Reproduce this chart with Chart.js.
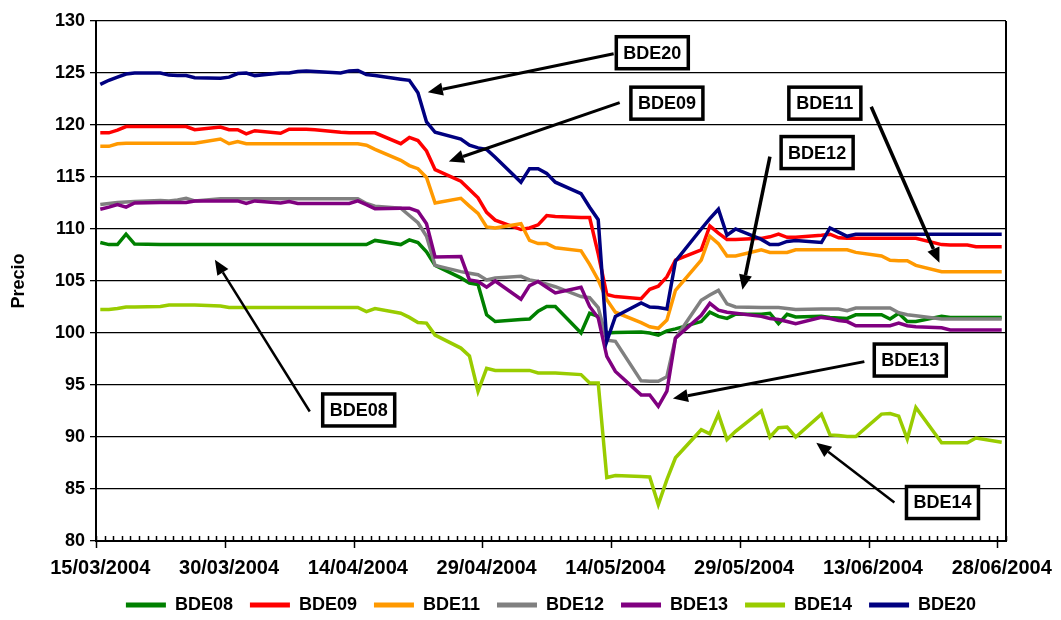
<!DOCTYPE html>
<html lang="es">
<head>
<meta charset="utf-8">
<title>Precio BDE</title>
<script src="https://cdn.jsdelivr.net/npm/chart.js@4.4.1/dist/chart.umd.min.js"></script>
<style>
  html, body { margin: 0; padding: 0; background: #fff; }
  #wrap { width: 1061px; height: 620px; }
</style>
</head>
<body>
<div id="wrap"><canvas id="chart" width="1061" height="620"></canvas></div>
<script>
// business days shown on the chart
const dates = [
  "15/03/2004", "16/03/2004", "17/03/2004", "18/03/2004", "19/03/2004",
  "22/03/2004", "23/03/2004", "24/03/2004", "25/03/2004", "26/03/2004",
  "29/03/2004", "30/03/2004", "31/03/2004", "01/04/2004", "02/04/2004",
  "05/04/2004", "06/04/2004", "07/04/2004", "08/04/2004", "09/04/2004",
  "12/04/2004", "13/04/2004", "14/04/2004", "15/04/2004", "16/04/2004",
  "19/04/2004", "20/04/2004", "21/04/2004", "22/04/2004", "23/04/2004",
  "26/04/2004", "27/04/2004", "28/04/2004", "29/04/2004", "30/04/2004",
  "03/05/2004", "04/05/2004", "05/05/2004", "06/05/2004", "07/05/2004",
  "10/05/2004", "11/05/2004", "12/05/2004", "13/05/2004", "14/05/2004",
  "17/05/2004", "18/05/2004", "19/05/2004", "20/05/2004", "21/05/2004",
  "24/05/2004", "25/05/2004", "26/05/2004", "27/05/2004", "28/05/2004",
  "31/05/2004", "01/06/2004", "02/06/2004", "03/06/2004", "04/06/2004",
  "07/06/2004", "08/06/2004", "09/06/2004", "10/06/2004", "11/06/2004",
  "14/06/2004", "15/06/2004", "16/06/2004", "17/06/2004", "18/06/2004",
  "21/06/2004", "22/06/2004", "23/06/2004", "24/06/2004", "25/06/2004",
  "28/06/2004"
];

const bde08 = [
  108.7, 108.5, 108.5, 109.5, 108.55,
  108.5, 108.5, 108.5, 108.5, 108.5,
  108.5, 108.5, 108.5, 108.5, 108.5,
  108.5, 108.5, 108.5, 108.5, 108.5,
  108.5, 108.5, 108.5, 108.5, 108.9,
  108.5, 108.95, 108.7, 107.8, 106.5,
  105.3, 104.8, 104.65, 101.75, 101.1,
  101.3, 101.35, 102.1, 102.55, 102.55,
  100.0, 101.9, 101.6, 100.0, 100.05,
  100.1, 100.0, 99.8, 100.2, 100.4,
  101.1, 102.0, 101.6, 101.4, 101.8,
  101.8, 101.9, 100.9, 101.8, 101.55,
  101.6, 101.5, 101.45, 101.4, 101.75,
  101.75, 101.35, 101.9, 101.1, 101.1,
  101.6, 101.5, 101.5, 101.5, 101.5,
  101.5
];
const bde09 = [
  119.25, 119.25, 119.5, 119.85, 119.85,
  119.85, 119.85, 119.85, 119.85, 119.55,
  119.8, 119.55, 119.55, 119.15, 119.45,
  119.2, 119.6, 119.6, 119.6, 119.55,
  119.3, 119.25, 119.25, 119.25, 119.25,
  118.2, 118.8, 118.5, 117.5, 115.7,
  114.6, 113.8, 113.0, 111.6, 110.85,
  109.95, 110.1, 110.4, 111.3, 111.2,
  111.1, 111.1, 107.6, 103.7, 103.5,
  103.3, 104.2, 104.5, 105.4, 107.0,
  108.0, 110.3, 109.6, 109.0, 109.0,
  109.1, 109.25, 109.5, 109.2, 109.2,
  109.4, 109.5, 109.15, 109.1, 109.1,
  109.1, 109.1, 109.1, 109.1, 109.1,
  108.5, 108.45, 108.45, 108.45, 108.3,
  108.3
];
const bde11 = [
  117.95, 117.95, 118.2, 118.25, 118.25,
  118.25, 118.25, 118.25, 118.25, 118.25,
  118.65, 118.2, 118.4, 118.2, 118.2,
  118.2, 118.2, 118.2, 118.2, 118.2,
  118.2, 118.2, 118.2, 118.05, 117.65,
  116.6, 116.1, 115.8, 114.95, 112.5,
  112.95, 112.2, 111.5, 110.2, 110.1,
  110.5, 108.9, 108.6, 108.6, 108.2,
  107.9, 106.6, 105.1, 103.2, 102.0,
  101.0, 100.6, 100.45, 101.25, 104.1,
  107.0, 109.3, 108.6, 107.4, 107.4,
  108.0, 107.75, 107.75, 107.75, 108.0,
  108.0, 108.0, 108.0, 108.0, 107.75,
  107.4, 107.0, 106.95, 106.95, 106.5,
  105.9, 105.9, 105.9, 105.9, 105.9,
  105.9
];
const bde12 = [
  112.35, 112.45, 112.55, 112.6, 112.65,
  112.75, 112.7, 112.8, 112.95, 112.7,
  112.9, 112.9, 112.9, 112.9, 112.9,
  112.9, 112.9, 112.9, 112.9, 112.9,
  112.9, 112.9, 112.9, 112.45, 112.2,
  112.0, 111.3, 110.6, 109.3, 106.5,
  105.9, 105.75, 105.6, 105.1, 105.3,
  105.45, 105.1, 104.95, 104.7, 104.45,
  103.5, 103.4, 102.45, 99.3, 99.2,
  95.4, 95.35, 95.35, 95.8, 99.5,
  103.15, 103.65, 104.1, 102.8, 102.5,
  102.45, 102.45, 102.45, 102.35, 102.25,
  102.3, 102.3, 102.3, 102.15, 102.4,
  102.4, 102.4, 101.95, 101.75, 101.65,
  101.35, 101.35, 101.35, 101.35, 101.35,
  101.35
];
const bde13 = [
  111.9, 112.1, 112.35, 112.1, 112.5,
  112.55, 112.55, 112.55, 112.55, 112.7,
  112.7, 112.7, 112.7, 112.45, 112.7,
  112.5, 112.65, 112.45, 112.45, 112.45,
  112.45, 112.45, 112.7, 112.35, 111.95,
  112.0, 112.0, 111.7, 110.5, 107.3,
  107.35, 105.1, 104.95, 104.4, 105.0,
  103.25, 104.55, 104.95, 104.4, 103.85,
  104.4, 102.55, 101.45, 97.75, 96.3,
  94.05, 94.05, 92.95, 94.4, 99.5,
  101.7, 102.85, 102.2, 102.0, 101.9,
  101.6, 101.4, 101.3, 101.1, 100.9,
  101.5, 101.4, 101.2, 101.1, 100.7,
  100.7, 100.7, 100.95, 100.7, 100.6,
  100.5, 100.3, 100.3, 100.3, 100.3,
  100.3
];
const bde14 = [
  102.25, 102.25, 102.35, 102.5, 102.5,
  102.55, 102.7, 102.7, 102.7, 102.7,
  102.6, 102.45, 102.45, 102.45, 102.45,
  102.45, 102.45, 102.45, 102.45, 102.45,
  102.45, 102.45, 102.45, 102.05, 102.35,
  101.9, 101.5, 101.0, 100.95, 99.8,
  98.55, 97.8, 94.4, 96.6, 96.4,
  96.4, 96.4, 96.15, 96.15, 96.15,
  96.0, 95.2, 95.2, 86.1, 86.3,
  86.2, 86.15, 83.5, 85.9, 88.0,
  90.7, 90.3, 92.2, 89.75, 90.55,
  92.5, 90.0, 90.9, 90.95, 90.0,
  92.2, 90.2, 90.15, 90.05, 90.05,
  92.2, 92.25, 92.0, 89.8, 92.85,
  89.45, 89.45, 89.45, 89.45, 89.9,
  89.5
];
const bde20 = [
  123.9, 124.3, 124.6, 124.9, 125.0,
  125.0, 124.8, 124.75, 124.75, 124.55,
  124.5, 124.6, 124.95, 125.0, 124.75,
  125.0, 125.0, 125.15, 125.2, 125.15,
  125.0, 125.2, 125.25, 124.85, 124.75,
  124.4, 124.3, 123.1, 120.3, 119.3,
  118.65, 118.05, 117.8, 117.65, 116.9,
  114.5, 115.8, 115.8, 115.35, 114.5,
  113.4, 112.1, 110.9, 99.2, 101.6,
  102.9, 102.5, 102.45, 102.3, 106.9,
  110.0, 111.0, 111.9, 109.4, 110.0,
  109.0, 108.5, 108.5, 108.8, 108.9,
  108.7, 110.1, 109.7, 109.3, 109.5,
  109.5, 109.5, 109.5, 109.5, 109.5,
  109.5, 109.5, 109.5, 109.5, 109.5,
  109.5
];

const seriesNames = ["BDE08", "BDE09", "BDE11", "BDE12", "BDE13", "BDE14", "BDE20"];
const seriesValues = [bde08, bde09, bde11, bde12, bde13, bde14, bde20];
const xTickLabels = ["15/03/2004", "30/03/2004", "14/04/2004", "29/04/2004", "14/05/2004", "29/05/2004", "13/06/2004", "28/06/2004"];

const seriesColors = ["#008000", "#ff0000", "#ff9900", "#808080", "#800080", "#99cc00", "#000080"];
const FONT = "'Liberation Sans', Arial, sans-serif";

// callouts: label box and arrow, in axis units (days since 15/03, price)
const callouts = [
  { text: "BDE20", box: [64.8, 126.95], tail: [60.3, 126.85], tip: [38.65, 123.15], w: 3 },
  { text: "BDE09", box: [66.5, 122.1], tail: [61.0, 122.15], tip: [41.1, 116.5], w: 3 },
  { text: "BDE11", box: [84.9, 122.1], tail: [90.3, 121.75], tip: [98.25, 106.75], w: 3.5 },
  { text: "BDE12", box: [84.0, 117.35], tail: [78.5, 116.95], tip: [75.3, 104.15], w: 3.5 },
  { text: "BDE13", box: [94.85, 97.4], tail: [89.5, 97.25], tip: [67.2, 93.7], w: 3 },
  { text: "BDE14", box: [98.6, 83.7], tail: [93.0, 83.7], tip: [83.9, 89.45], w: 2.5 },
  { text: "BDE08", box: [30.6, 92.6], tail: [24.9, 92.45], tip: [13.85, 107.05], w: 2.5 }
];

const START = Date.UTC(2004, 2, 15);
function dayOf(s) {
  const [d, m, y] = s.split("/").map(Number);
  return (Date.UTC(y, m - 1, d) - START) / 86400000;
}

function drawArrow(ctx, x1, y1, x2, y2, w) {
  const ang = Math.atan2(y2 - y1, x2 - x1);
  const head = 15, half = 6.5;
  const bx = x2 - head * Math.cos(ang), by = y2 - head * Math.sin(ang);
  ctx.lineWidth = w;
  ctx.beginPath();
  ctx.moveTo(x1, y1);
  ctx.lineTo(bx, by);
  ctx.stroke();
  ctx.beginPath();
  ctx.moveTo(x2, y2);
  ctx.lineTo(bx + half * Math.sin(ang), by - half * Math.cos(ang));
  ctx.lineTo(bx - half * Math.sin(ang), by + half * Math.cos(ang));
  ctx.closePath();
  ctx.fill();
}

const decor = {
  id: "decor",
  afterDatasetsDraw(chart) {
    const { ctx, scales: { x, y } } = chart;
    ctx.save();
    ctx.strokeStyle = "#000";
    ctx.fillStyle = "#000";
    ctx.lineCap = "butt";
    callouts.forEach((c) => {
      drawArrow(ctx, x.getPixelForValue(c.tail[0]), y.getPixelForValue(c.tail[1]),
        x.getPixelForValue(c.tip[0]), y.getPixelForValue(c.tip[1]), c.w);
    });
    callouts.forEach((c) => {
      const cx = x.getPixelForValue(c.box[0]), cy = y.getPixelForValue(c.box[1]);
      const bw = 72, bh = 32;
      ctx.fillStyle = "#fff";
      ctx.fillRect(cx - bw / 2, cy - bh / 2, bw, bh);
      ctx.lineWidth = 3.5;
      ctx.strokeRect(cx - bw / 2, cy - bh / 2, bw, bh);
      ctx.fillStyle = "#000";
      ctx.font = "bold 18px " + FONT;
      ctx.textAlign = "center";
      ctx.textBaseline = "middle";
      ctx.fillText(c.text, cx, cy + 1);
    });
    ctx.restore();
  },
  afterDraw(chart) {
    const { ctx, chartArea: a, scales: { x } } = chart;
    ctx.save();
    ctx.strokeStyle = "#000";
    ctx.lineWidth = 1.5;
    for (let d = 0; d <= 106; d++) {
      const px = Math.round(x.getPixelForValue(d)) + 0.5;
      const major = d % 15 === 0;
      ctx.beginPath();
      ctx.moveTo(px, a.bottom - 5);
      ctx.lineTo(px, a.bottom + (major ? 7 : 0));
      ctx.stroke();
    }
    ctx.lineWidth = 2;
    ctx.beginPath();
    ctx.moveTo(a.right, a.top);
    ctx.lineTo(a.right, a.bottom);
    ctx.stroke();
    ctx.restore();
  }
};

const datasets = seriesNames.map((name, i) => ({
  label: name,
  data: dates.map((s, k) => ({ x: dayOf(s) + 0.5, y: seriesValues[i][k] })),
  borderColor: seriesColors[i],
  backgroundColor: seriesColors[i],
  borderWidth: 3.5,
  pointRadius: 0,
  tension: 0,
  order: seriesNames.length - 1 - i
}));

new Chart(document.getElementById("chart"), {
  type: "line",
  data: { datasets },
  options: {
    responsive: false,
    animation: false,
    events: [],
    layout: { padding: { top: 21, right: 55, bottom: -4, left: 0 } },
    scales: {
      x: {
        type: "linear",
        min: 0,
        max: 106,
        afterBuildTicks: (scale) => {
          scale.ticks = xTickLabels.map((s) => ({ value: dayOf(s) + 0.5 }));
        },
        afterFit: (scale) => {
          scale.height = 38;
          scale.paddingLeft = 0;
          scale.paddingRight = 0;
        },
        ticks: {
          autoSkip: false,
          maxRotation: 0,
          padding: 15,
          color: "#000",
          font: { family: FONT, size: 20, weight: "bold" },
          callback: (v, i) => xTickLabels[i]
        },
        grid: { display: false, drawTicks: false },
        border: { display: true, color: "#000", width: 2 }
      },
      y: {
        min: 80,
        max: 130,
        afterFit: (scale) => { scale.width = 96; },
        ticks: {
          stepSize: 5,
          padding: 5,
          color: "#000",
          font: { family: FONT, size: 18, weight: "bold" }
        },
        grid: { color: "#000", lineWidth: 1.3, tickLength: 6, tickColor: "#000" },
        border: { color: "#000", width: 2 },
        title: {
          display: true,
          text: "Precio",
          color: "#000",
          padding: { top: 8, bottom: 0 },
          font: { family: FONT, size: 18, weight: "bold" }
        }
      }
    },
    plugins: {
      legend: {
        position: "bottom",
        fullSize: false,
        labels: {
          boxWidth: 40,
          boxHeight: 5,
          padding: 17,
          color: "#000",
          font: { family: FONT, size: 18, weight: "bold" },
          sort: (a, b) => a.datasetIndex - b.datasetIndex,
          generateLabels: (chart) =>
            Chart.defaults.plugins.legend.labels.generateLabels(chart).map((it) => ({ ...it, lineWidth: 0 }))
        }
      },
      tooltip: { enabled: false }
    }
  },
  plugins: [decor]
});
</script>
</body>
</html>
